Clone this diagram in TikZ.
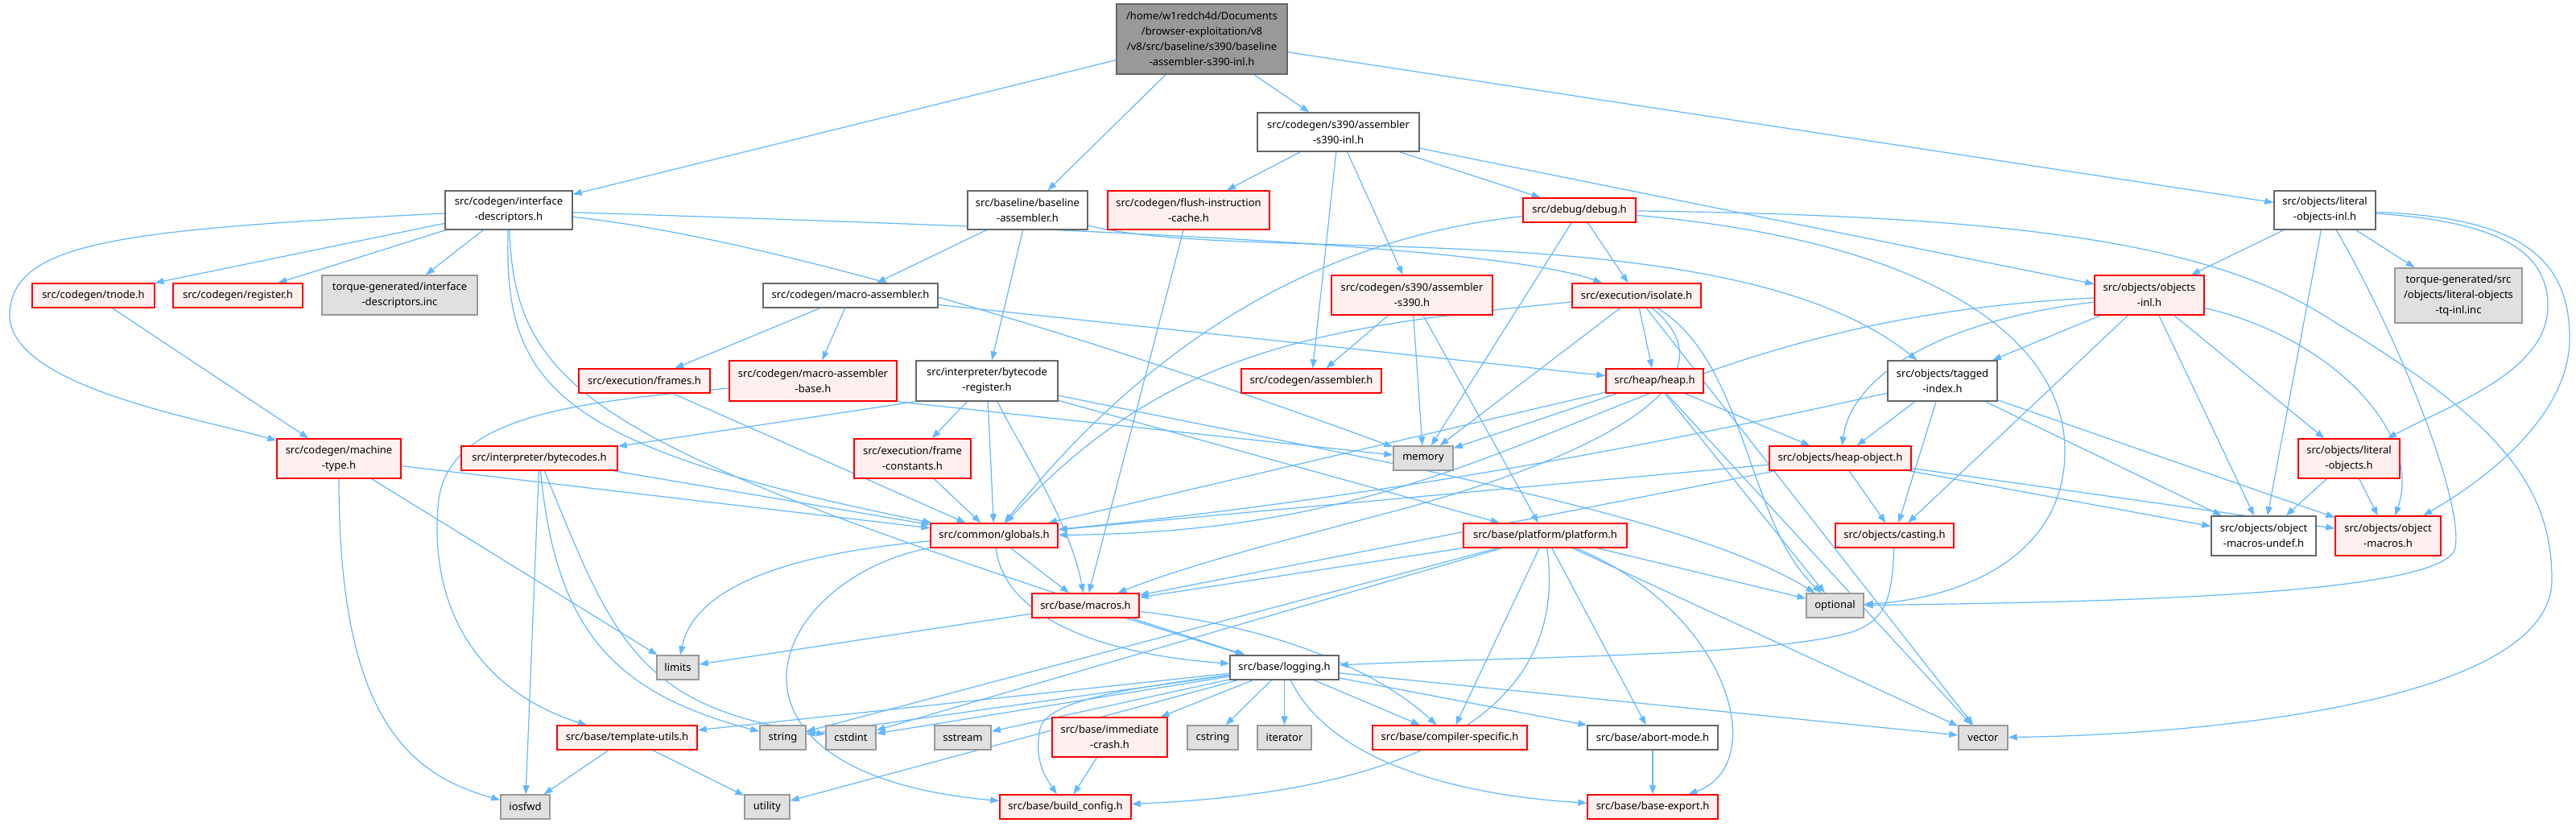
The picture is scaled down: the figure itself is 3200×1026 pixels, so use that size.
\documentclass[tikz,border=0pt]{standalone}
\usepackage{fontspec}
\usetikzlibrary{arrows.meta}
\newfontfamily\nodefont{Noto Sans}
\definecolor{edgec}{HTML}{63B8FF}
\definecolor{truncfill}{HTML}{FFF0F0}
\definecolor{truncdraw}{HTML}{FF0000}
\definecolor{plaindraw}{HTML}{666666}
\definecolor{sysfill}{HTML}{E0E0E0}
\definecolor{sysdraw}{HTML}{999999}
\definecolor{rootfill}{HTML}{999999}
\pgfdeclarelayer{back}
\pgfdeclarelayer{edges}
\pgfsetlayers{back,edges,main}
\tikzset{
  box/.style={line width=1.4pt, inner sep=0pt, align=center, minimum height=30pt,
    font=\nodefont\fontsize{13}{19}\selectfont, text=black},
  plainbox/.style={box, draw=plaindraw, fill=white},
  truncbox/.style={box, draw=truncdraw, fill=truncfill},
  sysbox/.style={box, draw=sysdraw, fill=sysfill},
  rootbox/.style={box, draw=plaindraw, fill=rootfill},
  e/.style={draw=edgec, line width=1.2pt, -{Triangle[length=11pt,width=8pt]}}
}
\begin{document}
\begin{tikzpicture}[x=1pt,y=-1pt]
\begin{pgfonlayer}{back}
\fill[white] (0,0) rectangle (3200,1026);
\end{pgfonlayer}
\useasboundingbox (0,0) rectangle (3200,1026);

% row 0
\node[rootbox, minimum width=212pt, minimum height=87pt] (root) at (1493,48.5) {/home/w1redch4d/Documents\\/browser-exploitation/v8\\/v8/src/baseline/s390/baseline\\-assembler-s390-inl.h};
% row 1
\node[plainbox, minimum width=201pt, minimum height=48pt] (s390inl) at (1662.5,164) {src/codegen/s390/assembler\\-s390-inl.h};
% row 2
\node[plainbox, minimum width=158pt, minimum height=48pt] (ifd) at (632,261) {src/codegen/interface\\-descriptors.h};
\node[plainbox, minimum width=149pt, minimum height=48pt] (bas) at (1276.5,261) {src/baseline/baseline\\-assembler.h};
\node[truncbox, minimum width=201pt, minimum height=48pt] (flush) at (1476.5,261) {src/codegen/flush-instruction\\-cache.h};
\node[truncbox, minimum width=140pt] (debug) at (1962,261) {src/debug/debug.h};
\node[plainbox, minimum width=126pt, minimum height=48pt] (litinl) at (2888,261) {src/objects/literal\\-objects-inl.h};
% row 3
\node[truncbox, minimum width=152pt] (tnode) at (116,367) {src/codegen/tnode.h};
\node[truncbox, minimum width=161pt] (register) at (295.5,367) {src/codegen/register.h};
\node[sysbox, minimum width=193pt, minimum height=49pt] (tinc) at (496.5,366.5) {torque-generated/interface\\-descriptors.inc};
\node[plainbox, minimum width=217pt] (masm) at (1056.5,367) {src/codegen/macro-assembler.h};
\node[truncbox, minimum width=200pt, minimum height=49pt] (as390) at (1754,366.5) {src/codegen/s390/assembler\\-s390.h};
\node[truncbox, minimum width=160pt] (isolate) at (2033,367) {src/execution/isolate.h};
\node[truncbox, minimum width=136pt, minimum height=49pt] (objinl) at (2670,366.5) {src/objects/objects\\-inl.h};
\node[sysbox, minimum width=158pt, minimum height=68pt] (tqinc) at (3054,367) {torque-generated/src\\/objects/literal-objects\\-tq-inl.inc};
% row 4
\node[truncbox, minimum width=163pt] (frames) at (800.5,473) {src/execution/frames.h};
\node[truncbox, minimum width=208pt, minimum height=50pt] (masmbase) at (1010,473) {src/codegen/macro-assembler\\-base.h};
\node[plainbox, minimum width=176pt, minimum height=50pt] (bcreg) at (1226,473) {src/interpreter/bytecode\\-register.h};
\node[truncbox, minimum width=174pt] (asm) at (1629,473) {src/codegen/assembler.h};
\node[truncbox, minimum width=121pt] (heap) at (2055.5,473) {src/heap/heap.h};
\node[plainbox, minimum width=136pt, minimum height=50pt] (tagged) at (2413,473) {src/objects/tagged\\-index.h};
% row 5
\node[truncbox, minimum width=154pt, minimum height=49pt] (mtype) at (421,569.5) {src/codegen/machine\\-type.h};
\node[truncbox, minimum width=194pt] (bytecodes) at (670,569) {src/interpreter/bytecodes.h};
\node[truncbox, minimum width=145pt, minimum height=49pt] (fconst) at (1133.5,569.5) {src/execution/frame\\-constants.h};
\node[sysbox, minimum width=74pt] (memory) at (1768,569) {memory};
\node[truncbox, minimum width=176pt] (heapobj) at (2286,569) {src/objects/heap-object.h};
\node[truncbox, minimum width=126pt, minimum height=49pt] (litobj) at (2918,569.5) {src/objects/literal\\-objects.h};
% row 6
\node[truncbox, minimum width=158pt] (globals) at (1235,665) {src/common/globals.h};
\node[truncbox, minimum width=203pt] (platform) at (1919.5,665) {src/base/platform/platform.h};
\node[truncbox, minimum width=147pt] (casting) at (2353.5,665) {src/objects/casting.h};
\node[plainbox, minimum width=130pt, minimum height=49pt] (oundef) at (2812,665.5) {src/objects/object\\-macros-undef.h};
\node[truncbox, minimum width=131pt, minimum height=49pt] (omacros) at (2966.5,665.5) {src/objects/object\\-macros.h};
% row 7
\node[truncbox, minimum width=133pt] (macros) at (1348.5,752) {src/base/macros.h};
\node[sysbox, minimum width=71pt] (optional) at (2279.5,752) {optional};
% row 8
\node[sysbox, minimum width=52pt] (limits) at (842,829) {limits};
\node[plainbox, minimum width=135pt] (logging) at (1595.5,829) {src/base/logging.h};
% row 9
\node[truncbox, minimum width=174pt] (tutils) at (779,916) {src/base/template-utils.h};
\node[sysbox, minimum width=57pt] (string) at (972.5,916) {string};
\node[sysbox, minimum width=62pt] (cstdint) at (1057,916) {cstdint};
\node[sysbox, minimum width=70pt] (sstream) at (1196,916) {sstream};
\node[truncbox, minimum width=143pt, minimum height=49pt] (icrash) at (1378.5,915.5) {src/base/immediate\\-crash.h};
\node[sysbox, minimum width=63pt] (cstring) at (1506.5,916) {cstring};
\node[sysbox, minimum width=67pt] (iterator) at (1595.5,916) {iterator};
\node[truncbox, minimum width=192pt] (cspec) at (1801,916) {src/base/compiler-specific.h};
\node[plainbox, minimum width=162pt] (abort) at (2053,916) {src/base/abort-mode.h};
\node[sysbox, minimum width=61pt] (vector) at (2463.5,916) {vector};
% row 10
\node[sysbox, minimum width=61pt] (iosfwd) at (652.5,1002) {iosfwd};
\node[sysbox, minimum width=56pt] (utility) at (953,1002) {utility};
\node[truncbox, minimum width=163pt] (buildcfg) at (1323.5,1002) {src/base/build\_config.h};
\node[truncbox, minimum width=162pt] (bexport) at (2053,1002) {src/base/base-export.h};

\begin{pgfonlayer}{edges}
% root
\draw[e] (root) -- (ifd);
\draw[e] (root) -- (bas);
\draw[e] (root) -- (s390inl);
\draw[e] (root) -- (litinl);
% interface-descriptors
\draw[e] (ifd) -- (tnode);
\draw[e] (ifd) -- (register);
\draw[e] (ifd) -- (tinc);
\draw[e] (ifd) .. controls (150,285) and (15,300) .. (12,390) .. controls (10,480) and (250,520) .. (mtype);
\draw[e] (ifd) .. controls (625,480) and (690,555) .. (globals);
\draw[e] (ifd) .. controls (640,500) and (760,560) .. (logging);
\draw[e] (ifd) .. controls (1200,280) and (1850,300) .. (isolate);
\draw[e] (ifd) .. controls (1000,300) and (1500,470) .. (memory);
% baseline-assembler
\draw[e] (bas) -- (masm);
\draw[e] (bas) -- (bcreg);
\draw[e] (bas) .. controls (1550,330) and (2150,260) .. (tagged);
% flush
\draw[e] (flush) -- (macros);
% s390 inl
\draw[e] (s390inl) -- (flush);
\draw[e] (s390inl) -- (asm);
\draw[e] (s390inl) -- (as390);
\draw[e] (s390inl) -- (debug);
\draw[e] (s390inl) -- (objinl);
% debug
\draw[e] (debug) .. controls (1600,300) and (1400,460) .. (globals);
\draw[e] (debug) -- (memory);
\draw[e] (debug) -- (isolate);
\draw[e] (debug) .. controls (2400,300) and (2565,420) .. (2565,560) .. controls (2565,700) and (2420,745) .. (optional);
\draw[e] (debug) .. controls (2500,268) and (2750,300) .. (2900,400) .. controls (3100,520) and (3170,600) .. (3170,720) .. controls (3170,870) and (2750,912) .. (vector);
% literal-objects-inl
\draw[e] (litinl) -- (objinl);
\draw[e] (litinl) -- (tqinc);
\draw[e] (litinl) -- (oundef);
\draw[e] (litinl) .. controls (3100,275) and (3165,310) .. (3165,380) .. controls (3165,460) and (3050,500) .. (litobj);
\draw[e] (litinl) .. controls (3130,270) and (3192,320) .. (3192,420) .. controls (3192,520) and (3080,600) .. (omacros);
\draw[e] (litinl) .. controls (2980,420) and (3060,620) .. (3050,680) .. controls (3040,740) and (2600,748) .. (optional);
% tnode
\draw[e] (tnode) -- (mtype);
% macro-assembler
\draw[e] (masm) -- (frames);
\draw[e] (masm) -- (masmbase);
\draw[e] (masm) -- (heap);
% assembler-s390
\draw[e] (as390) -- (asm);
\draw[e] (as390) -- (memory);
\draw[e] (as390) -- (platform);
% isolate
\draw[e] (isolate) .. controls (1650,405) and (1450,430) .. (globals);
\draw[e] (isolate) -- (memory);
\draw[e] (isolate) -- (heap);
\draw[e] (isolate) .. controls (2160,470) and (2000,560) .. (1750,630) .. controls (1600,670) and (1480,700) .. (macros);
\draw[e] (isolate) .. controls (2170,450) and (2170,650) .. (optional);
\draw[e] (isolate) -- (vector);
% heap
\draw[e] (heap) -- (memory);
\draw[e] (heap) -- (globals);
\draw[e] (heap) -- (heapobj);
\draw[e] (heap) -- (optional);
\draw[e] (heap) -- (vector);
% tagged-index
\draw[e] (tagged) -- (heapobj);
\draw[e] (tagged) -- (casting);
\draw[e] (tagged) -- (oundef);
\draw[e] (tagged) -- (omacros);
\draw[e] (tagged) .. controls (2200,520) and (1800,610) .. (globals);
% objects-inl
\draw[e] (objinl) .. controls (2000,400) and (1900,660) .. (globals);
\draw[e] (objinl) .. controls (2400,400) and (2300,470) .. (heapobj);
\draw[e] (objinl) -- (tagged);
\draw[e] (objinl) -- (casting);
\draw[e] (objinl) -- (oundef);
\draw[e] (objinl) -- (litobj);
\draw[e] (objinl) .. controls (2900,420) and (3010,540) .. (omacros);
% heap-object
\draw[e] (heapobj) -- (globals);
\draw[e] (heapobj) -- (macros);
\draw[e] (heapobj) -- (casting);
\draw[e] (heapobj) -- (oundef);
\draw[e] (heapobj) -- (omacros);
% literal-objects
\draw[e] (litobj) -- (oundef);
\draw[e] (litobj) -- (omacros);
% frames, macro-assembler-base, bytecode-register, frame-constants
\draw[e] (frames) -- (globals);
\draw[e] (masmbase.south east) -- (memory);
\draw[e] (masmbase) .. controls (700,500) and (560,520) .. (545,620) .. controls (530,760) and (600,860) .. (tutils);
\draw[e] (bcreg.south west) -- (bytecodes);
\draw[e] (bcreg) -- (fconst);
\draw[e] (bcreg) -- (globals);
\draw[e] (bcreg) .. controls (1270,560) and (1330,650) .. (macros);
\draw[e] (bcreg) -- (platform);
\draw[e] (bcreg) .. controls (1700,570) and (2100,640) .. (optional);
\draw[e] (fconst) -- (globals);
% machine-type, bytecodes
\draw[e] (mtype) -- (limits);
\draw[e] (mtype) -- (globals);
\draw[e] (mtype) .. controls (421,880) and (500,960) .. (iosfwd);
\draw[e] (bytecodes) -- (globals);
\draw[e] (bytecodes) -- (iosfwd);
\draw[e] (bytecodes) .. controls (690,780) and (760,860) .. (string);
\draw[e] (bytecodes) .. controls (760,790) and (790,880) .. (cstdint);
% globals
\draw[e] (globals) .. controls (950,690) and (860,740) .. (limits);
\draw[e] (globals) -- (macros);
\draw[e] (globals) .. controls (1250,780) and (1400,815) .. (logging);
\draw[e] (globals) .. controls (950,720) and (860,960) .. (buildcfg);
% macros
\draw[e] (macros) -- (limits);
\draw[e] (macros) -- (logging);
\draw[e] (macros) .. controls (1600,780) and (1720,840) .. (cspec);
% platform
\draw[e] (platform) -- (macros);
\draw[e] (platform) -- (string);
\draw[e] (platform) -- (cstdint);
\draw[e] (platform) -- (cspec);
\draw[e] (platform) .. controls (1960,950) and (1600,990) .. (buildcfg);
\draw[e] (platform) -- (abort);
\draw[e] (platform) .. controls (2150,760) and (2200,950) .. (bexport);
\draw[e] (platform) -- (optional);
\draw[e] (platform) -- (vector);
% casting
\draw[e] (casting) .. controls (2350,740) and (2345,770) .. (2300,785) .. controls (2200,815) and (1900,815) .. (logging);
% logging
\draw[e] (logging) -- (tutils);
\draw[e] (logging) -- (string);
\draw[e] (logging) -- (cstdint);
\draw[e] (logging) -- (sstream);
\draw[e] (logging) -- (icrash);
\draw[e] (logging) -- (cstring);
\draw[e] (logging) -- (iterator);
\draw[e] (logging) -- (cspec);
\draw[e] (logging) -- (abort);
\draw[e] (logging) -- (vector);
\draw[e] (logging) -- (utility);
\draw[e] (logging) .. controls (1400,855) and (1300,870) .. (1292,905) .. controls (1285,940) and (1295,960) .. (buildcfg);
\draw[e] (logging) .. controls (1660,960) and (1850,990) .. (bexport);
% leaves
\draw[e] (icrash) -- (buildcfg);
\draw[e] (tutils) -- (iosfwd);
\draw[e] (tutils) -- (utility);
\draw[e] (abort) -- (bexport);
\end{pgfonlayer}
\end{tikzpicture}
\end{document}
